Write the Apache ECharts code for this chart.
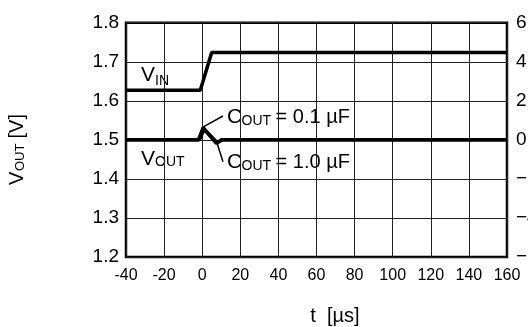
<!DOCTYPE html>
<html><head><meta charset="utf-8">
<script src="https://cdn.jsdelivr.net/npm/echarts@6/dist/echarts.min.js"></script>
<style>html,body{margin:0;padding:0;background:#fff}#c{width:528px;height:327px}</style>
</head><body><div id="c"></div>
<script>
// ---- data ----
const xTicks = [-40, -20, 0, 20, 40, 60, 80, 100, 120, 140, 160];
const leftTicks = [1.2, 1.3, 1.4, 1.5, 1.6, 1.7, 1.8];
const rightTicks = [-6, -4, -2, 0, 2, 4, 6];

const vinTime   = [-40, -1, 5, 160];
const vinValues = [1.627, 1.627, 1.724, 1.724];

const cout01Time   = [-40, -2, 0.5, 7.5, 10, 160];
const cout01Values = [1.5, 1.5, 1.531, 1.491, 1.5, 1.5];

const cout10Time   = [-40, -1.5, 1, 7.8, 10.5, 160];
const cout10Values = [1.5, 1.5, 1.527, 1.493, 1.5, 1.5];

const leader01Time   = [0.6, 10.9];
const leader01Values = [1.533, 1.561];
const leader10Time   = [7.8, 10.9];
const leader10Values = [1.492, 1.444];

const zip = (a, b) => a.map((v, i) => [v, b[i]]);
const FONT = 'Liberation Sans, Arial, sans-serif';

const chart = echarts.init(document.getElementById('c'), null, {renderer: 'canvas'});

const lineSeries = (data, w) => ({
  type: 'line', data, symbol: 'none', silent: true, animation: false,
  lineStyle: {color: '#000', width: w}, xAxisIndex: 0, yAxisIndex: 0
});

function txt(x, y, text, size, align) {
  return {type: 'text', x, y, silent: true,
    style: {text, fontSize: size, fontFamily: FONT, fill: '#000',
            align: align || 'left', verticalAlign: 'middle'}};
}

chart.setOption({
  backgroundColor: '#fff',
  animation: false,
  grid: {left: 126, top: 22.7, right: 21, bottom: 70, show: true,
         containLabel: false, outerBoundsMode: 'none',
         borderColor: '#000', borderWidth: 2.5, backgroundColor: 'transparent'},
  xAxis: {
    type: 'value', min: xTicks[0], max: xTicks[xTicks.length - 1], interval: 20,
    axisLine: {show: false}, axisTick: {show: false},
    axisLabel: {margin: 11, fontSize: 16, fontFamily: FONT, color: '#000'},
    splitLine: {show: true, lineStyle: {color: '#222', width: 1}}
  },
  yAxis: [{
    type: 'value', min: leftTicks[0], max: leftTicks[leftTicks.length - 1], interval: 0.1,
    axisLine: {show: false}, axisTick: {show: false},
    axisLabel: {margin: 7, fontSize: 19, fontFamily: FONT, color: '#000',
                formatter: v => v.toFixed(1)},
    splitLine: {show: true, lineStyle: {color: '#222', width: 1}}
  }, {
    type: 'value', position: 'right', min: rightTicks[0], max: rightTicks[rightTicks.length - 1], interval: 2,
    axisLine: {show: false}, axisTick: {show: false},
    axisLabel: {margin: 9, fontSize: 19, fontFamily: FONT, color: '#000',
                formatter: v => v < 0 ? '\u2212' + (-v) : String(v)},
    splitLine: {show: false}
  }],
  series: [
    lineSeries(zip(vinTime, vinValues), 3.5),
    lineSeries(zip(cout01Time, cout01Values), 3.5),
    lineSeries(zip(cout10Time, cout10Values), 3.5),
    lineSeries(zip(leader01Time, leader01Values), 1.5),
    lineSeries(zip(leader10Time, leader10Values), 1.5)
  ],
  graphic: [
    txt(141, 75.5, 'V', 21), txt(155, 81, 'IN', 14),
    txt(141, 159, 'V', 21), txt(155, 162.5, 'OUT', 14),
    txt(227, 117.5, 'C', 21), txt(241.5, 121.5, 'OUT', 14), txt(270, 117.5, ' = 0.1 \u00b5F', 20),
    txt(227, 162.5, 'C', 21), txt(241.5, 166.5, 'OUT', 14), txt(270, 162.5, ' = 1.0 \u00b5F', 20),
    txt(335, 316, 't  [\u00b5s]', 20, 'center'),
    {type: 'group', x: 25, y: 185, rotation: Math.PI / 2, silent: true, children: [
      txt(0, -7.5, 'V', 20),
      txt(14, -4.7, 'OUT', 13),
      txt(41, -7.5, ' [V]', 20)
    ]}
  ]
});
</script></body></html>
